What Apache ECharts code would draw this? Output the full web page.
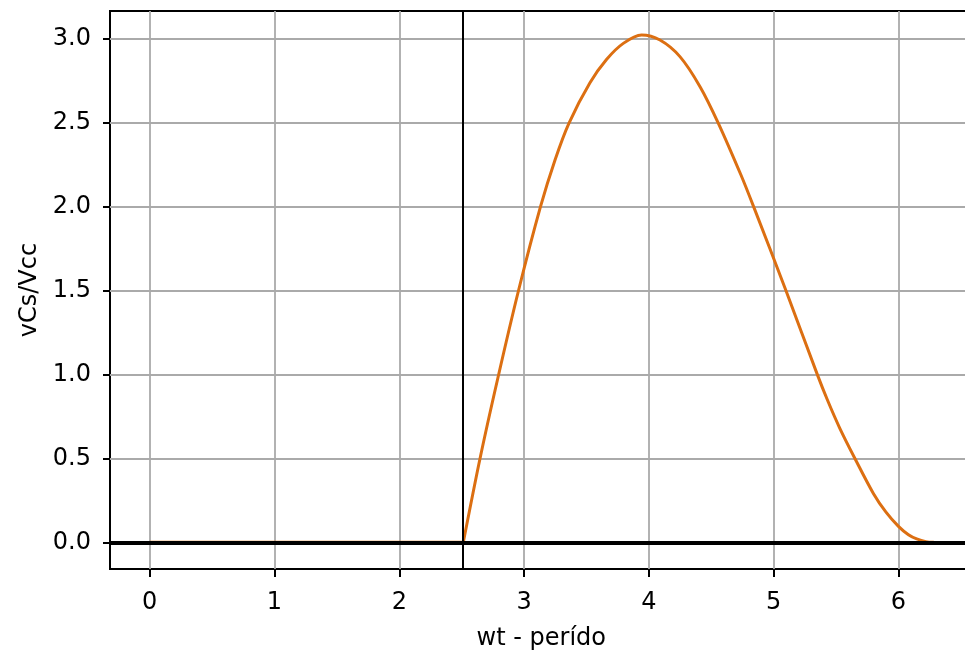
<!DOCTYPE html>
<html>
<head>
<meta charset="utf-8">
<script src="https://cdn.jsdelivr.net/npm/echarts@6/dist/echarts.min.js"></script>
<style>
  html, body { margin: 0; padding: 0; background: #fff; }
  #chart { width: 965px; height: 652px; }
</style>
</head>
<body>
<div id="chart"></div>
<script>
// Normalised switch voltage while the switch is open
const wtOn  = [2.513, 2.647, 2.79, 2.955, 3.131, 3.248, 3.36, 3.528, 3.662, 3.795, 3.942,
               4.089, 4.249, 4.41, 4.556, 4.738, 4.84, 5.099, 5.35, 5.43, 5.53, 5.651,
               5.80, 5.90, 6.0, 6.08, 6.146, 6.22, 6.283];
const vcsOn = [0, 0.5, 0.98, 1.5, 2.0, 2.28, 2.5, 2.74, 2.88, 2.975, 3.025,
               2.995, 2.896, 2.717, 2.5, 2.19, 2.0, 1.5, 1.0, 0.85, 0.68, 0.5,
               0.29, 0.18, 0.095, 0.045, 0.02, 0.004, 0];

// Switch closed: voltage stays at zero
const wtOff  = [0, 2.513];
const vcsOff = [0, 0];

// Switch turn-off instant and the reference level
const switchOff = 2.513;
const baseLevel = 0;

// Axis tick values
const xTicks = [0, 1, 2, 3, 4, 5, 6];
const yTicks = [0, 0.5, 1.0, 1.5, 2.0, 2.5, 3.0];

const xRange = [-0.318, 6.594];
const yRange = [-0.159, 3.168];

const FONT = 'DejaVu Sans';
const ORANGE = '#dc6f12';
const chart = echarts.init(document.getElementById('chart'), null, { renderer: 'canvas' });

chart.setOption({
  animation: false,
  backgroundColor: '#ffffff',
  grid: {
    left: 110, top: 11, width: 862.6, height: 558,
    outerBoundsMode: 'none',
    containLabel: false,
    show: true, borderColor: '#000', borderWidth: 2, backgroundColor: 'transparent'
  },
  xAxis: {
    type: 'value',
    min: xRange[0], max: xRange[1],
    name: 'wt - perído',
    nameLocation: 'middle',
    nameGap: 58,
    nameTextStyle: { fontFamily: FONT, fontSize: 24, color: '#000' },
    axisLine: { show: false, onZero: false },
    axisTick: { show: true, customValues: xTicks, length: 8, lineStyle: { color: '#000', width: 2 } },
    axisLabel: { customValues: xTicks, fontFamily: FONT, fontSize: 24, color: '#000', margin: 22,
                 formatter: v => String(v) },
    splitLine: { show: true, lineStyle: { color: '#aaaaaa', width: 1.8 } }
  },
  yAxis: {
    type: 'value',
    min: yRange[0], max: yRange[1],
    name: 'vCs/Vcc',
    nameLocation: 'middle',
    nameGap: 67,
    nameRotate: 90,
    nameTextStyle: { fontFamily: FONT, fontSize: 24, color: '#000' },
    axisLine: { show: false, onZero: false },
    axisTick: { show: true, customValues: yTicks, length: 7, lineStyle: { color: '#000', width: 2 } },
    axisLabel: { customValues: yTicks, fontFamily: FONT, fontSize: 24, color: '#000', margin: 19,
                 formatter: v => v.toFixed(1) },
    splitLine: { show: true, lineStyle: { color: '#aaaaaa', width: 1.8 } }
  },
  series: [
    {
      type: 'line',
      data: wtOff.map((x, i) => [x, vcsOff[i]]),
      showSymbol: false,
      lineStyle: { color: ORANGE, width: 3 },
      z: 2
    },
    {
      type: 'line',
      data: wtOn.map((x, i) => [x, vcsOn[i]]),
      showSymbol: false,
      smooth: 0.3,
      lineStyle: { color: ORANGE, width: 3 },
      z: 2,
      markLine: {
        silent: true,
        symbol: 'none',
        label: { show: false },
        z: 5,
        data: [
          { yAxis: baseLevel, lineStyle: { color: '#000', width: 4, type: 'solid' } },
          { xAxis: switchOff, lineStyle: { color: '#000', width: 2, type: 'solid' } }
        ]
      }
    }
  ]
});
</script>
</body>
</html>
